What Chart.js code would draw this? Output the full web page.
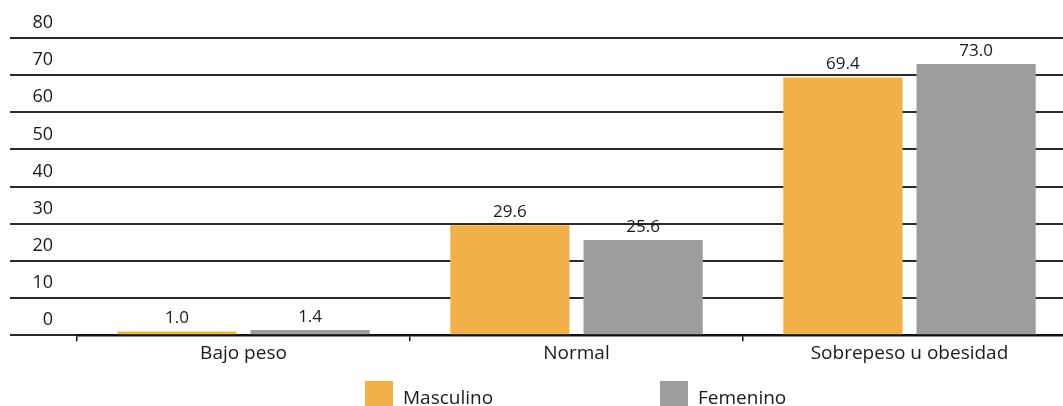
<!DOCTYPE html>
<html>
<head>
<meta charset="utf-8">
<script src="https://cdn.jsdelivr.net/npm/chart.js@4/dist/chart.umd.min.js"></script>
<style>
  body { margin: 0; overflow: hidden; background: #fff; font-family: "Open Sans", sans-serif; }
  #wrap { position: relative; width: 1063px; height: 406px; overflow: hidden; }
  .leg { position: absolute; top: 381px; display: flex; align-items: flex-start; font-size: 19px; color: #1a1a1a; }
  .leg span.box { display: inline-block; width: 28px; height: 28px; margin-right: 10px; }
  .leg span.txt { line-height: 28px; margin-top: 2px; }
</style>
</head>
<body>
<div id="wrap">
  <canvas id="bar-chart" width="1076" height="406"></canvas>
  <div class="leg" style="left:365px"><span class="box" style="background:#f1b04a"></span><span class="txt">Masculino</span></div>
  <div class="leg" style="left:660px"><span class="box" style="background:#9d9d9e"></span><span class="txt">Femenino</span></div>
</div>
<script>
// categorias y valores (%)
const categorias = ["Bajo peso", "Normal", "Sobrepeso u obesidad"];
const masculino = [1.0, 29.6, 69.4];
const femenino = [1.4, 25.6, 73.0];
const ticksY = [0, 10, 20, 30, 40, 50, 60, 70, 80];

// etiquetas encima de las barras
const etiquetas = {
  id: 'etiquetas',
  afterDatasetsDraw(chart) {
    const ctx = chart.ctx;
    ctx.save();
    ctx.font = '17px "Open Sans"';
    ctx.fillStyle = '#1a1a1a';
    ctx.textAlign = 'center';
    ctx.textBaseline = 'alphabetic';
    chart.data.datasets.forEach((ds, i) => {
      chart.getDatasetMeta(i).data.forEach((bar, j) => {
        ctx.fillText(ds.data[j].toFixed(1), bar.x, bar.y - 8);
      });
    });
    ctx.restore();
  }
};

new Chart(document.getElementById("bar-chart"), {
  type: 'bar',
  data: {
    labels: categorias,
    datasets: [
      { label: "Masculino", backgroundColor: "#f1b04a", data: masculino },
      { label: "Femenino", backgroundColor: "#9d9d9e", data: femenino }
    ]
  },
  options: {
    responsive: false,
    animation: false,
    layout: { padding: { top: 38, right: 0, bottom: 40, left: 0 } },
    datasets: { bar: { categoryPercentage: 0.8, barPercentage: 0.895 } },
    plugins: {
      legend: { display: false },
      tooltip: { enabled: false }
    },
    scales: {
      x: {
        grid: { display: true, drawOnChartArea: false, drawTicks: true, tickLength: 6, color: '#111', lineWidth: 1.5, offset: true },
        border: { display: true, color: '#111', width: 2.5 },
        ticks: { color: '#1a1a1a', font: { family: 'Open Sans', size: 19 }, padding: 1 }
      },
      y: {
        min: 0,
        max: 80,
        afterFit(scale) { scale.width = 77; },
        afterBuildTicks(scale) { scale.ticks = ticksY.map(v => ({ value: v })); },
        grid: { color: '#2a2a2a', lineWidth: 2, drawTicks: true, tickLength: 67 },
        border: { display: false },
        ticks: { color: '#1a1a1a', font: { family: 'Open Sans', size: 18 }, padding: -43, labelOffset: -15 }
      }
    }
  },
  plugins: [etiquetas]
});
</script>
</body>
</html>
